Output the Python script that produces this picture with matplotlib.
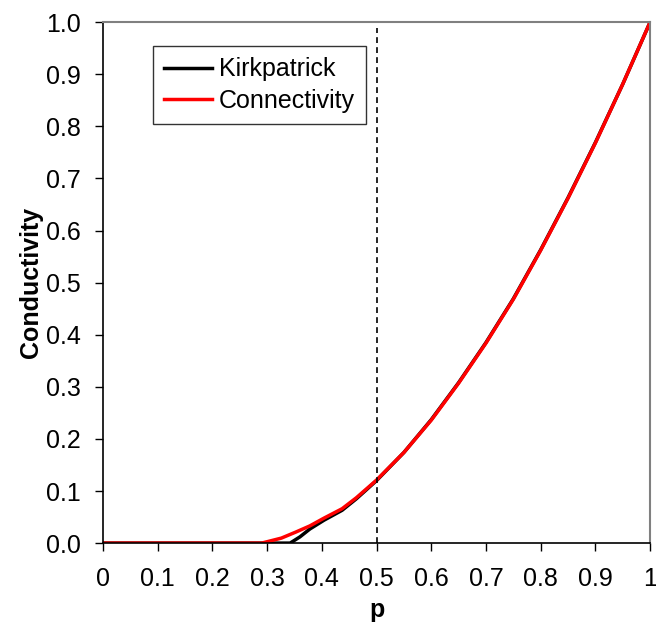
import numpy as np
import matplotlib
matplotlib.use("Agg")
from matplotlib import pyplot as plt

# values
p_conn = [0.0, 0.29, 0.305, 0.326, 0.352, 0.378, 0.404, 0.437, 0.463, 0.50,
          0.55, 0.60, 0.65, 0.70, 0.75, 0.80, 0.85, 0.90, 0.95, 1.0]
cond_conn = [0.0, 0.0, 0.004, 0.0096, 0.021, 0.033, 0.048, 0.066, 0.087, 0.121,
             0.174, 0.236, 0.307, 0.384, 0.468, 0.562, 0.662, 0.768, 0.881, 1.0]

p_kirk = [0.0, 0.342, 0.360, 0.378, 0.404, 0.437, 0.463, 0.50,
          0.55, 0.60, 0.65, 0.70, 0.75, 0.80, 0.85, 0.90, 0.95, 1.0]
cond_kirk = [0.0, 0.0, 0.012, 0.027, 0.044, 0.063, 0.085, 0.120,
             0.174, 0.237, 0.308, 0.385, 0.469, 0.563, 0.663, 0.769, 0.881, 1.0]

p_threshold = 0.5

plt.rcParams['font.family'] = ['Liberation Sans', 'DejaVu Sans']

fig = plt.figure(figsize=(6.56, 6.33), dpi=100)
ax = fig.add_axes([0.157, 0.142, 0.834, 0.823])

ax.plot(p_kirk, cond_kirk, color='black', lw=2.5, label='Kirkpatrick')
ax.plot(p_conn, cond_conn, color='red', lw=2.5, label='Connectivity')
ax.plot([p_threshold, p_threshold], [0, 0.988], color='black', lw=1.2, ls=(0, (3.5, 2.5)))

ax.set_xlim(0, 1)
ax.set_ylim(0, 1)
ax.set_xticks(np.arange(0, 1.01, 0.1))
ax.set_xticklabels(['0', '0.1', '0.2', '0.3', '0.4', '0.5', '0.6', '0.7', '0.8', '0.9', '1'])
ax.set_yticks(np.arange(0, 1.01, 0.1))
ax.set_yticklabels(['%.1f' % v for v in np.arange(0, 1.01, 0.1)])
ax.tick_params(direction='out', length=6, width=1, labelsize=18)
ax.tick_params(axis='x', pad=11)
ax.tick_params(axis='y', pad=10)

for s in ['left', 'bottom']:
    ax.spines[s].set_color('black')
    ax.spines[s].set_linewidth(1.2)
for s in ['top', 'right']:
    ax.spines[s].set_color('#808080')
    ax.spines[s].set_linewidth(1.5)

ax.set_xlabel('p', fontsize=18, fontweight='bold', labelpad=5)
ax.set_ylabel('Conductivity', fontsize=18, fontweight='bold', labelpad=2)

leg = ax.legend(loc='upper left', bbox_to_anchor=(0.233, 0.927), bbox_transform=fig.transFigure,
                fontsize=18, frameon=True, fancybox=False, handlelength=1.9,
                handletextpad=0.3, borderpad=0.45, labelspacing=0.3, borderaxespad=0)
leg.get_frame().set_edgecolor('black')
leg.get_frame().set_linewidth(1.0)

fig.savefig('out.png', dpi=100)
